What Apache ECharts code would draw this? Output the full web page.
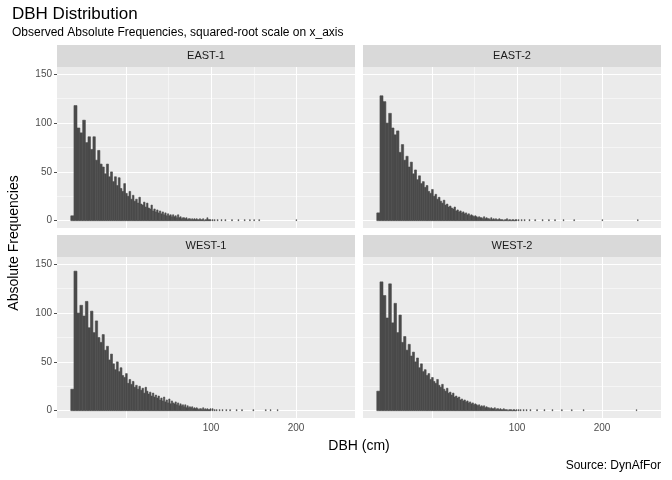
<!DOCTYPE html>
<html><head><meta charset="utf-8">
<script src="https://cdn.jsdelivr.net/npm/echarts@6/dist/echarts.min.js"></script>
<style>html,body{margin:0;padding:0;background:#fff}#c{width:672px;height:480px}</style>
</head><body><div id="c"></div>
<script>
// panels and counts per 1 cm DBH class, starting at 10 cm
var panels = ["EAST-1", "EAST-2", "WEST-1", "WEST-2"];
var startDbh = 10;
var east1 = [5,118,95,90,103,80,86,73,86,62,72,58,55,48,58,45,50,40,45,36,44,33,30,38,28,25,30,22,26,20,22,18,24,17,16,19,14,18,13,12,16,10,12,9,11,8,10,7,9,6,8,5,7,5,6,4,6,4,5,3,6,3,4,2,3,3,2,3,1,2,2,1,2,1,2,1,2,1,1,2,1,1,2,0,1,1,3,1,1,1];
var east2 = [8,128,122,100,110,95,88,92,70,78,62,66,55,60,48,52,42,46,38,40,34,36,30,28,32,25,27,22,24,20,18,21,16,17,14,15,13,12,14,10,11,9,10,8,9,7,8,6,7,5,6,5,4,5,4,3,4,3,3,2,4,2,3,2,2,1,3,1,2,1,2,1,1,2,1,1,1,0,1,1,2,0,1,1,0,1,1,0,1,1];
var west1 = [22,143,100,108,97,112,85,102,80,92,75,70,78,62,66,52,58,48,42,50,40,44,36,34,38,28,32,27,30,24,26,22,25,21,23,18,24,20,17,19,15,18,14,16,13,15,11,13,10,14,9,11,8,12,7,10,8,7,9,6,8,5,7,5,6,4,6,3,5,3,4,3,4,2,3,2,3,2,1,2,2,1,3,1,2,1,2,1,1,2];
var west2 = [20,132,118,95,130,90,110,80,98,70,76,62,68,56,60,50,54,44,48,40,42,36,38,32,34,30,28,32,26,24,27,22,20,23,18,19,16,18,14,15,13,14,11,12,10,11,9,10,8,9,7,8,6,7,6,5,6,4,5,4,5,3,4,3,3,2,3,2,2,3,1,2,2,1,2,1,1,2,1,1,1,0,1,1,1,0,1,1,0,1];
// sparse tail above 100 cm: [dbh, count]
var east1Tail = [[101,1],[103,1],[106,1],[110,1],[114,1],[121,1],[128,1],[135,1],[141,1],[146,1],[152,1],[200,1]];
var east2Tail = [[101,1],[104,1],[107,1],[112,1],[118,1],[126,1],[133,1],[140,1],[150,1],[163,1],[200,1],[252,1]];
var west1Tail = [[101,2],[103,1],[105,1],[108,1],[111,1],[115,1],[119,1],[126,1],[132,1],[145,1],[160,1],[166,1],[175,1]];
var west2Tail = [[101,1],[103,1],[106,1],[109,1],[113,1],[120,1],[128,1],[137,1],[148,1],[160,1],[175,1],[250,1]];
var counts = [east1, east2, west1, west2];
var tails = [east1Tail, east2Tail, west1Tail, west2Tail];
var xTickDbh = [100, 200];
var xMajorDbh = [34.3, 100, 200];
var xMinorDbh = [62.9, 147];
var yMajor = [0, 50, 100, 150];
var yMinor = [25, 75, 125];

var chart = echarts.init(document.getElementById('c'));
var txt = '#1A1A1A', tick = '#4D4D4D';
var boxes = [[57, 67], [363, 67], [57, 257], [363, 257]];
var W = 298, H = 161;

var grids = [], xAxes = [], yAxes = [], series = [], graphics = [];
boxes.forEach(function (b, i) {
  grids.push({left: b[0], top: b[1], width: W, height: H, show: true, backgroundColor: '#EBEBEB', borderWidth: 0});
  var bottom = i >= 2, left = i % 2 === 0;
  xAxes.push({type: 'value', gridIndex: i, min: 2.49, max: 17.02,
    axisLine: {show: false}, splitLine: {show: false},
    axisTick: {show: bottom, length: 3, lineStyle: {color: tick}, customValues: xTickDbh.map(Math.sqrt)},
    axisLabel: {show: bottom, color: tick, fontSize: 10, margin: 5, fontFamily: 'Liberation Sans',
      customValues: xTickDbh.map(Math.sqrt), formatter: function (v) { return Math.round(v * v); }}});
  yAxes.push({type: 'value', gridIndex: i, min: -7.5, max: 157.5,
    axisLine: {show: false}, splitLine: {show: false},
    axisTick: {show: left, length: 3, lineStyle: {color: tick}, customValues: yMajor},
    axisLabel: {show: left, color: tick, fontSize: 10, margin: 5, fontFamily: 'Liberation Sans', customValues: yMajor}});
  var data = counts[i].map(function (c, k) { return [startDbh + k, c]; }).concat(tails[i]);
  var ml = [];
  yMajor.forEach(function (v) { ml.push({yAxis: v, lineStyle: {width: 1.1}}); });
  yMinor.forEach(function (v) { ml.push({yAxis: v, lineStyle: {width: 0.5}}); });
  xMajorDbh.forEach(function (v) { ml.push({xAxis: Math.sqrt(v), lineStyle: {width: 1.1}}); });
  xMinorDbh.forEach(function (v) { ml.push({xAxis: Math.sqrt(v), lineStyle: {width: 0.5}}); });
  series.push({type: 'line', xAxisIndex: i, yAxisIndex: i, data: [], z: 1,
    markLine: {silent: true, symbol: 'none', label: {show: false}, animation: false,
      lineStyle: {color: '#FFFFFF', type: 'solid'}, data: ml}});
  series.push({type: 'custom', xAxisIndex: i, yAxisIndex: i, zlevel: 1, z: 3, data: data,
    renderItem: function (params, api) {
      var d = api.value(0), c = api.value(1);
      var p0 = api.coord([Math.sqrt(d), c]);
      var p1 = api.coord([Math.sqrt(d + 1), 0]);
      return {type: 'rect', shape: {x: p0[0], y: p0[1], width: Math.max(p1[0] - p0[0], 0.6), height: p1[1] - p0[1]},
        style: {fill: '#4A4A4A', stroke: '#4A4A4A', lineWidth: 0.6}};
    }});
  graphics.push({type: 'rect', left: b[0], top: b[1] - 22, shape: {width: W, height: 22}, style: {fill: '#D9D9D9'}});
  graphics.push({type: 'text', x: b[0] + W / 2, y: b[1] - 11, style: {text: panels[i], fill: txt, fontSize: 11,
    fontFamily: 'Liberation Sans', align: 'center', verticalAlign: 'middle'}});
});
graphics.push({type: 'text', left: 12, top: 6, style: {text: 'DBH Distribution', fill: '#000', fontSize: 17, fontFamily: 'Liberation Sans'}});
graphics.push({type: 'text', left: 12, top: 27, style: {text: 'Observed Absolute Frequencies, squared-root scale on x_axis', fill: '#000', fontSize: 12, fontFamily: 'Liberation Sans'}});
graphics.push({type: 'text', x: 14, y: 243, rotation: Math.PI / 2, style: {text: 'Absolute Frequencies', fill: '#000', fontSize: 14,
  fontFamily: 'Liberation Sans', align: 'center', verticalAlign: 'middle'}});
graphics.push({type: 'text', x: 359, y: 446, style: {text: 'DBH (cm)', fill: '#000', fontSize: 14, fontFamily: 'Liberation Sans', align: 'center', verticalAlign: 'middle'}});
graphics.push({type: 'text', x: 661, y: 466, style: {text: 'Source: DynAfFor', fill: '#000', fontSize: 12, fontFamily: 'Liberation Sans', align: 'right', verticalAlign: 'middle'}});

chart.setOption({animation: false, grid: grids, xAxis: xAxes, yAxis: yAxes, series: series, graphic: graphics});
</script></body></html>
